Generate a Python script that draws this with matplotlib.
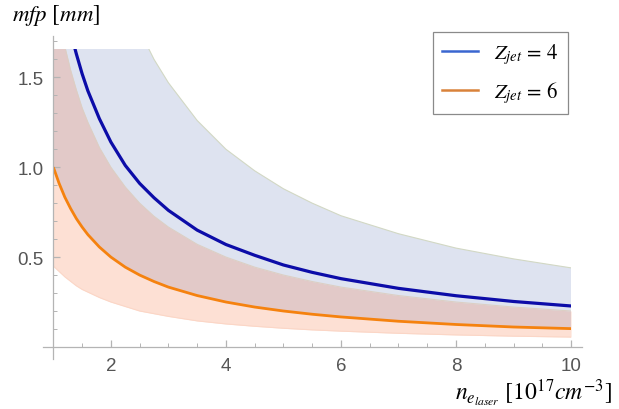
import numpy as np
import matplotlib.pyplot as plt
from matplotlib.lines import Line2D
from matplotlib.patches import Rectangle
from matplotlib.ticker import MultipleLocator

plt.rcParams["mathtext.fontset"] = "stix"
plt.rcParams["font.family"] = ["Liberation Sans", "DejaVu Sans"]

# electron density [1e17 cm^-3]
n_e = [1, 1.1, 1.2, 1.3, 1.4, 1.5, 1.6, 1.8, 2, 2.25, 2.5, 2.75, 3, 3.5, 4, 4.5, 5,
       5.5, 6, 7, 8, 9, 10]

# Z_jet = 4
z4_mid = [2.28, 2.07, 1.90, 1.75, 1.63, 1.52, 1.425, 1.27, 1.14, 1.01, 0.91, 0.83, 0.76,
          0.65, 0.57, 0.51, 0.456, 0.415, 0.38, 0.326, 0.285, 0.253, 0.228]
z4_hi = [4.40, 4.00, 3.67, 3.38, 3.14, 2.93, 2.75, 2.44, 2.20, 1.96, 1.76, 1.60, 1.47,
         1.26, 1.10, 0.98, 0.88, 0.80, 0.73, 0.63, 0.55, 0.49, 0.44]
z4_lo = [1.00, 0.91, 0.833, 0.77, 0.714, 0.667, 0.625, 0.556, 0.50, 0.444, 0.40, 0.364,
         0.333, 0.286, 0.25, 0.222, 0.20, 0.182, 0.167, 0.143, 0.125, 0.111, 0.10]

# Z_jet = 6
z6_mid = [1.00, 0.91, 0.833, 0.77, 0.714, 0.667, 0.625, 0.556, 0.50, 0.444, 0.40, 0.364,
          0.333, 0.286, 0.25, 0.222, 0.20, 0.182, 0.167, 0.143, 0.125, 0.111, 0.102]
z6_hi = [2.00, 1.82, 1.67, 1.54, 1.43, 1.33, 1.25, 1.11, 1.00, 0.89, 0.80, 0.727, 0.667,
         0.571, 0.50, 0.444, 0.40, 0.364, 0.333, 0.286, 0.25, 0.222, 0.20]
z6_lo = [0.45, 0.42, 0.39, 0.365, 0.34, 0.32, 0.305, 0.275, 0.25, 0.225, 0.20, 0.185,
         0.17, 0.145, 0.128, 0.115, 0.104, 0.095, 0.088, 0.076, 0.067, 0.060, 0.055]

y_top = 1.66  # plot range cut

fig = plt.figure(figsize=(6.19, 4.10), dpi=100)
ax = fig.add_axes([43 / 619, 50 / 410, 539 / 619, 323 / 410])

clip = Rectangle((1, -1), 9, y_top + 1, transform=ax.transData)

arts = []
arts.append(ax.fill_between(n_e, z4_lo, z4_hi, color="#5b74b5", alpha=0.2, lw=0))
arts.append(ax.fill_between(n_e, z6_lo, z6_hi, color="#f56428", alpha=0.2, lw=0))
arts += ax.plot(n_e, z4_hi, color="#d2d8c4", lw=0.8)
arts += ax.plot(n_e, z6_hi, color="#dccfc4", lw=0.8)
arts += ax.plot(n_e, z6_lo, color="#fbd6c6", lw=0.8)
arts += ax.plot(n_e, z4_mid, color="#0c0ca8", lw=2.3, solid_capstyle="butt")
arts += ax.plot(n_e, z6_mid, color="#f5820f", lw=2.0, solid_capstyle="butt")
for a in arts:
    a.set_clip_path(clip)

ax.set_xlim(0.82, 10.19)
ax.set_ylim(-0.067, 1.73)

for s in ["top", "right"]:
    ax.spines[s].set_visible(False)
ax.spines["left"].set_position(("data", 1))
ax.spines["bottom"].set_position(("data", 0))
for s in ["left", "bottom"]:
    ax.spines[s].set_color("#b4b4b4")
    ax.spines[s].set_linewidth(0.9)

ax.set_xticks([2, 4, 6, 8, 10])
ax.xaxis.set_minor_locator(MultipleLocator(0.5))
ax.set_yticks([0.5, 1.0, 1.5])
ax.set_yticklabels(["0.5", "1.0", "1.5"])
ax.yaxis.set_minor_locator(MultipleLocator(0.1))
ax.tick_params(which="both", direction="in", color="#b4b4b4", labelcolor="#555555",
               labelsize=13.5, pad=7)
ax.tick_params(which="major", length=5, width=0.9)
ax.tick_params(which="minor", length=3, width=0.7)

fig.text(12 / 619, 1 - 15 / 410, r"$mfp\ [mm]$", fontsize=16.5, va="center", ha="left")
fig.text(612 / 619, 1 - 393 / 410, r"$n_{e_{laser}}\ [10^{17}cm^{-3}]$", fontsize=17,
         va="center", ha="right")

handles = [Line2D([], [], color="#3a66d0", lw=1.8),
           Line2D([], [], color="#d9823a", lw=1.8)]
leg = fig.legend(handles, [r"$Z_{jet}\,=\,4$", r"$Z_{jet}\,=\,6$"], loc="upper left",
                 bbox_to_anchor=(433 / 619, 1 - 33 / 410), borderaxespad=0,
                 fontsize=15, handlelength=1.7, labelspacing=0.6, borderpad=0.45,
                 handletextpad=0.8, fancybox=False, framealpha=1)
leg.get_frame().set_edgecolor("#8a8a8a")
leg.get_frame().set_linewidth(0.9)

fig.savefig("out.png", dpi=100)
